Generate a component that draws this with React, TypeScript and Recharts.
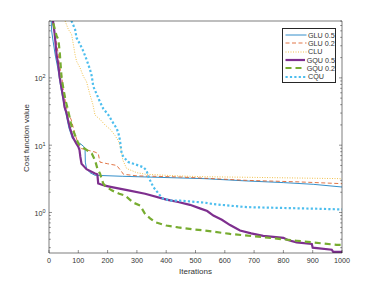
import { LineChart, Line, XAxis, YAxis, Legend } from 'recharts';

// ─── Data ──────────────────────────────────────────────────────

const X_TICKS = [0, 100, 200, 300, 400, 500, 600, 700, 800, 900, 1000];
const Y_TICKS = [
    0.3, 0.4, 0.5, 0.6, 0.7, 0.8, 0.9,
    1, 2, 3, 4, 5, 6, 7, 8, 9,
    10, 20, 30, 40, 50, 60, 70, 80, 90,
    100, 200, 300, 400, 500, 600, 700,
];
const Y_DOMAIN: [number, number] = [0.25, 700];

// [iteration, cost]
const GLU_05: [number, number][] = [
    [0, 5000], [7, 800], [9, 500], [14, 350], [22, 210], [30, 140], [37, 88], [45, 55],
    [53, 37], [62, 24], [68, 18], [80, 12.5], [89, 11.5], [106, 10.6], [118, 9.6], [123, 9],
    [124, 5.6], [128, 4.5], [140, 3.9], [157, 3.57], [250, 3.45], [447, 3.26], [532, 3.18],
    [675, 2.94], [800, 2.78], [902, 2.62], [1000, 2.39],
];
const GLU_02: [number, number][] = [
    [0, 5000], [10, 800], [20, 450], [30, 250], [36, 150], [43, 110], [48, 70], [59, 37],
    [66, 30], [76, 23.7], [88, 15], [99, 10.6], [105, 9.2], [111, 8.9], [157, 7.9], [168, 7.5],
    [174, 5.6], [200, 5.3], [231, 5.0], [245, 4.2], [254, 3.7], [300, 3.5], [447, 3.37],
    [675, 3.0], [850, 2.85], [1000, 2.68],
];
const CLU: [number, number][] = [
    [45, 1500], [55, 700], [66, 525], [77, 445], [83, 315], [89, 222], [94, 177], [106, 141],
    [117, 106], [128, 88], [140, 56], [150, 40], [157, 28], [175, 24], [191, 20], [210, 17],
    [225, 14], [237, 11.5], [245, 9], [252, 6], [265, 4.5], [300, 3.9], [330, 3.7],
    [447, 3.48], [532, 3.4], [750, 3.3], [1000, 3.18],
];
const GQU_05: [number, number][] = [
    [0, 5000], [12, 800], [19, 464], [26, 220], [31, 166], [37, 100], [42, 74], [49, 50],
    [53, 37], [60, 30], [65, 23.7], [72, 17.7], [82, 13], [93, 10.6], [100, 9.5], [104, 8.5],
    [107, 6.7], [111, 5.3], [120, 4.8], [128, 4.4], [157, 3.8], [165, 3.7], [168, 2.7],
    [191, 2.5], [210, 2.4], [271, 2.13], [328, 1.9], [401, 1.55], [441, 1.43], [481, 1.3],
    [515, 1.15], [540, 1.05], [561, 0.9], [590, 0.78], [618, 0.65], [652, 0.54], [690, 0.49],
    [731, 0.45], [800, 0.42], [815, 0.39], [845, 0.36], [897, 0.34], [900, 0.3], [965, 0.28],
    [970, 0.26], [1000, 0.26],
];
const GQU_02: [number, number][] = [
    [0, 5000], [9, 800], [26, 420], [32, 370], [37, 230], [40, 150], [43, 100], [48, 74],
    [55, 50], [59, 42], [65, 33], [70, 26.5], [76, 20], [82, 16.7], [89, 14], [100, 10.6],
    [106, 10], [120, 9], [146, 7.5], [157, 6], [165, 4.5], [174, 3.8], [185, 2.7], [191, 2.5],
    [214, 2.13], [240, 1.9], [259, 1.79], [288, 1.4], [311, 1.27], [328, 0.95], [345, 0.82],
    [362, 0.72], [400, 0.64], [441, 0.6], [493, 0.56], [532, 0.54], [618, 0.48], [731, 0.43],
    [845, 0.38], [982, 0.33], [1000, 0.33],
];
const CQU: [number, number][] = [
    [60, 2000], [77, 700], [89, 525], [94, 394], [106, 315], [117, 250], [128, 188], [140, 133],
    [146, 106], [151, 75], [174, 44], [185, 35], [203, 28], [220, 21], [231, 17.7], [237, 15],
    [242, 12], [248, 7.5], [254, 6.7], [271, 5.6], [288, 5.3], [305, 5.0], [322, 4.7],
    [333, 4.2], [339, 3.4], [356, 2.39], [379, 1.79], [390, 1.6], [419, 1.5], [447, 1.5],
    [532, 1.4], [561, 1.33], [675, 1.2], [788, 1.17], [902, 1.14], [1000, 1.11],
];

// ─── Series styling ────────────────────────────────────────────

const SERIES = [
    { key: 'glu05', name: 'GLU 0.5', points: GLU_05, color: '#0072BD', width: 0.8, dash: undefined },
    { key: 'glu02', name: 'GLU 0.2', points: GLU_02, color: '#D95319', width: 0.8, dash: '4 2.5' },
    { key: 'clu', name: 'CLU', points: CLU, color: '#EDB120', width: 0.8, dash: '1 1.5' },
    { key: 'gqu05', name: 'GQU 0.5', points: GQU_05, color: '#7E2F8E', width: 2.2, dash: undefined },
    { key: 'gqu02', name: 'GQU 0.2', points: GQU_02, color: '#77AC30', width: 2.2, dash: '6 4' },
    { key: 'cqu', name: 'CQU', points: CQU, color: '#4DBEEE', width: 2.2, dash: '2.2 2.2' },
];

const W = 378;
const H = 284;
const PLOT = { left: 49, right: 342, top: 21, bottom: 253 };
const AXIS = '#262626';
const TEXT = '#333';
const FONT = '"Liberation Sans", Arial, Helvetica, sans-serif';

const isMajor = (v: number) => Math.abs(Math.log10(v) - Math.round(Math.log10(v))) < 1e-9;

// ─── Custom inward ticks (MATLAB style box) ───────────────────

// eslint-disable-next-line @typescript-eslint/no-explicit-any
const BottomTick = ({ x, payload }: any) => (
    <g>
        <line x1={x} x2={x} y1={PLOT.bottom} y2={PLOT.bottom - 3} stroke={AXIS} strokeWidth={0.5} />
        <text x={x} y={PLOT.bottom + 10} textAnchor="middle" fontSize={7.2} fill={TEXT} fontFamily={FONT}>
            {payload.value}
        </text>
    </g>
);

// eslint-disable-next-line @typescript-eslint/no-explicit-any
const TopTick = ({ x }: any) => (
    <line x1={x} x2={x} y1={PLOT.top} y2={PLOT.top + 3} stroke={AXIS} strokeWidth={0.5} />
);

// eslint-disable-next-line @typescript-eslint/no-explicit-any
const LeftTick = ({ y, payload }: any) => {
    const v = payload.value as number;
    const major = isMajor(v);
    return (
        <g>
            <line x1={PLOT.left} x2={PLOT.left + (major ? 3 : 1.8)} y1={y} y2={y} stroke={AXIS} strokeWidth={0.5} />
            {major && (
                <text x={PLOT.left - 3.5} y={y + 3.5} textAnchor="end" fontSize={7.2} fill={TEXT} fontFamily={FONT}>
                    10<tspan dy={-3} fontSize={5.5}>{Math.round(Math.log10(v))}</tspan>
                </text>
            )}
        </g>
    );
};

// eslint-disable-next-line @typescript-eslint/no-explicit-any
const RightTick = ({ y, payload }: any) => {
    const major = isMajor(payload.value);
    return (
        <line x1={PLOT.right} x2={PLOT.right - (major ? 3 : 1.8)} y1={y} y2={y} stroke={AXIS} strokeWidth={0.5} />
    );
};

// ─── Legend box ───────────────────────────────────────────────

const LegendBox = () => (
    <div
        style={{
            border: `0.6px solid ${AXIS}`,
            background: '#fff',
            boxSizing: 'border-box',
            width: 54,
            padding: '2px 0 1.5px 1.5px',
            fontFamily: FONT,
            fontSize: 7.2,
            color: TEXT,
        }}
    >
        {SERIES.map((s) => (
            <div key={s.key} style={{ display: 'flex', alignItems: 'center', height: 8.3, whiteSpace: 'nowrap' }}>
                <svg width={22} height={6} style={{ display: 'block', marginRight: 1.5 }}>
                    <line x1={0.5} x2={21.5} y1={3} y2={3} stroke={s.color} strokeWidth={s.width} strokeDasharray={s.dash} />
                </svg>
                <span>{s.name}</span>
            </div>
        ))}
    </div>
);

export default function App() {
    return (
        <div style={{ position: 'absolute', left: 0, top: 0, width: W, height: H, background: '#fff' }}>
            <LineChart width={W} height={H} margin={{ top: 20, right: 35, bottom: 9, left: 19 }}>
                <XAxis
                    xAxisId={0}
                    dataKey="it"
                    type="number"
                    domain={[0, 1000]}
                    ticks={X_TICKS}
                    interval={0}
                    height={22}
                    tickSize={0}
                    tickLine={false}
                    axisLine={{ stroke: AXIS, strokeWidth: 0.6 }}
                    tick={<BottomTick />}
                    label={{
                        content: () => (
                            <text x={(PLOT.left + PLOT.right) / 2} y={274} textAnchor="middle" fontSize={8} fill={TEXT} fontFamily={FONT}>
                                Iterations
                            </text>
                        ),
                    }}
                />
                <XAxis
                    xAxisId="top"
                    orientation="top"
                    type="number"
                    domain={[0, 1000]}
                    ticks={X_TICKS}
                    interval={0}
                    height={1}
                    tickSize={0}
                    tickLine={false}
                    axisLine={{ stroke: AXIS, strokeWidth: 0.6 }}
                    tick={<TopTick />}
                />
                <YAxis
                    yAxisId={0}
                    type="number"
                    scale="log"
                    domain={Y_DOMAIN}
                    allowDataOverflow
                    ticks={Y_TICKS}
                    interval={0}
                    width={30}
                    tickSize={0}
                    tickLine={false}
                    axisLine={{ stroke: AXIS, strokeWidth: 0.6 }}
                    tick={<LeftTick />}
                    label={{
                        content: () => (
                            <text
                                x={29}
                                y={138}
                                transform="rotate(-90 29 138)"
                                textAnchor="middle"
                                fontSize={8}
                                fill={TEXT}
                                fontFamily={FONT}
                            >
                                Cost function value
                            </text>
                        ),
                    }}
                />
                <YAxis
                    yAxisId="right"
                    orientation="right"
                    type="number"
                    scale="log"
                    domain={Y_DOMAIN}
                    allowDataOverflow
                    ticks={Y_TICKS}
                    interval={0}
                    width={1}
                    tickSize={0}
                    tickLine={false}
                    axisLine={{ stroke: AXIS, strokeWidth: 0.6 }}
                    tick={<RightTick />}
                />
                {SERIES.map((s) => (
                    <Line
                        key={s.key}
                        xAxisId={0}
                        yAxisId={0}
                        data={s.points.map(([it, v]) => ({ it, v }))}
                        dataKey="v"
                        name={s.name}
                        type="linear"
                        stroke={s.color}
                        strokeWidth={s.width}
                        strokeDasharray={s.dash}
                        dot={false}
                        activeDot={false}
                        isAnimationActive={false}
                    />
                ))}
                <Legend
                    layout="vertical"
                    align="center"
                    verticalAlign="middle"
                    wrapperStyle={{ left: 282, top: 28, width: 54 }}
                    content={<LegendBox />}
                />
            </LineChart>
        </div>
    );
}
